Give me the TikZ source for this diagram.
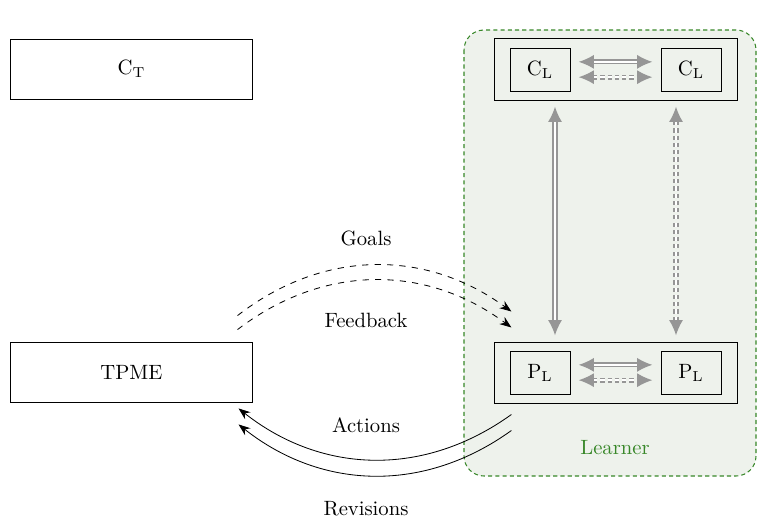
\documentclass[tikz,border=0pt]{standalone}
\usetikzlibrary{arrows.meta,calc}
\definecolor{learnerfill}{RGB}{238,242,236}
\definecolor{learnergreen}{RGB}{55,135,40}
\definecolor{linkgray}{RGB}{150,150,150}
\tikzset{
	box/.style={draw, minimum width=4.1cm, minimum height=1.02cm},
	outerbox/.style={draw, minimum width=4.12cm, minimum height=1.04cm},
	innerbox/.style={draw, minimum width=1.02cm, minimum height=0.73cm},
	link/.style={draw=linkgray, line width=0.7pt, double=white, double distance=1.1pt,
		{Latex[length=2.6mm,width=2.4mm]}-{Latex[length=2.6mm,width=2.4mm]}},
	dashlink/.style={link, dash pattern=on 2pt off 1.5pt},
	goalarrow/.style={dashed, -{Stealth[length=2mm]}},
	actarrow/.style={-{Stealth[length=2mm]}},
}

\begin{document}
\begin{tikzpicture}[x=0.017cm, y=-0.017cm]
	%%%%% START %%%%%
	\useasboundingbox (0,0) rectangle (757,522);
	
	% learner region
	\draw[learnergreen, line width=0.5pt, dash pattern=on 2pt off 1.5pt, fill=learnerfill, rounded corners=0.34cm] (464,30) rectangle (756,476);
	\node[text=learnergreen] (learner) at (615,448) {Learner};
	
	% teacher side
	\node[box] (ct) at (131.5,69) {$\mathrm{C_T}$};
	\node[box] (tpme) at (131.5,372) {TPME};
	
	% learner side
	\node[outerbox] (ctop) at (616,69.5) {};
	\node[innerbox] (cl1) at (540,69.5) {$\mathrm{C_L}$};
	\node[innerbox] (cl2) at (691,69.5) {$\mathrm{C_L}$};
	
	\node[outerbox] (pbot) at (616,372.5) {};
	\node[innerbox] (pl1) at (540,372.5) {$\mathrm{P_L}$};
	\node[innerbox] (pl2) at (691,372.5) {$\mathrm{P_L}$};
	
	\draw[link, shorten <=0.14cm, shorten >=0.14cm] ([yshift=0.13cm]cl1.east) -- ([yshift=0.13cm]cl2.west);
	\draw[dashlink, shorten <=0.14cm, shorten >=0.14cm] ([yshift=-0.13cm]cl1.east) -- ([yshift=-0.13cm]cl2.west);
	\draw[link, shorten <=0.14cm, shorten >=0.14cm] ([yshift=0.13cm]pl1.east) -- ([yshift=0.13cm]pl2.west);
	\draw[dashlink, shorten <=0.14cm, shorten >=0.14cm] ([yshift=-0.13cm]pl1.east) -- ([yshift=-0.13cm]pl2.west);
	
	\draw[link, shorten <=0.26cm, shorten >=0.26cm] ($(cl1.south)+(15,0)$ |- ctop.south) -- ($(pl1.north)+(15,0)$ |- pbot.north);
	\draw[dashlink, shorten <=0.26cm, shorten >=0.26cm] ($(cl2.south)+(-15,0)$ |- ctop.south) -- ($(pl2.north)+(-15,0)$ |- pbot.north);
	
	% exchanges
	\coordinate (g1s) at ($(tpme.north east)+(-15,-26)$);
	\coordinate (g1e) at ($(pbot.north west)+(17,-30)$);
	\coordinate (g2s) at ($(tpme.north east)+(-15,-12)$);
	\coordinate (g2e) at ($(pbot.north west)+(17,-14)$);
	\coordinate (a1s) at ($(pbot.south west)+(17,11)$);
	\coordinate (a1e) at ($(tpme.south east)+(-14,6)$);
	\coordinate (a2s) at ($(pbot.south west)+(17,27)$);
	\coordinate (a2e) at ($(tpme.south east)+(-14,22)$);
	
	\draw[goalarrow] (g1s) to[bend left=37] (g1e);
	\draw[goalarrow] (g2s) to[bend left=37] (g2e);
	\draw[actarrow] (a1s) to[bend left=37] (a1e);
	\draw[actarrow] (a2s) to[bend left=37] (a2e);
	
	\node (goals) at (366,238) {Goals};
	\node (feedback) at (366,320) {Feedback};
	\node (actions) at (366,425) {Actions};
	\node (revisions) at (366,509) {Revisions};
	%%%%% END %%%%%
\end{tikzpicture}
\end{document}
